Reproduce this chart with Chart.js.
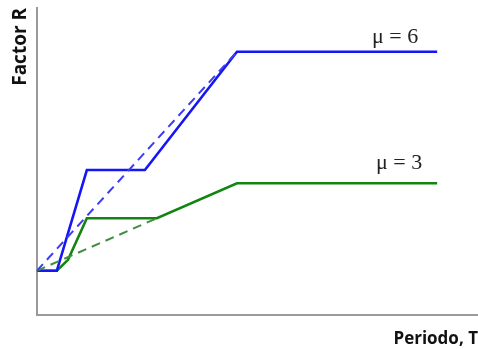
<!DOCTYPE html>
<html>
<head>
<meta charset="utf-8">
<script src="https://cdn.jsdelivr.net/npm/chart.js@4.4.1/dist/chart.umd.min.js"></script>
<style>
  html, body { margin: 0; padding: 0; background: #fff; }
  #wrap { width: 478px; height: 349px; }
</style>
</head>
<body>
<div id="wrap"><canvas id="rCanvas"></canvas></div>
<script>
// periodo T (arbitrary units) and factor R for each curve
const periodMu6 = [0, 0.5, 1.25, 2.7, 5, 10];
const factorMu6 = [2, 2, 6.6, 6.6, 12, 12];
const periodMu6Dash = [0, 5];
const factorMu6Dash = [2, 12];

const periodMu3 = [0, 0.5, 0.78, 1.25, 3, 5, 10];
const factorMu3 = [2, 2, 2.5, 4.4, 4.4, 6, 6];
const periodMu3Dash = [0, 3];
const factorMu3Dash = [2, 4.4];

const curveLabels = ['\u03bc = 6', '\u03bc = 3'];

function toPoints(xs, ys) {
    return xs.map((x, i) => ({ x: x, y: ys[i] }));
}

// draws the mu labels above the flat part of each curve
const muLabels = {
    id: 'muLabels',
    afterDatasetsDraw(chart) {
        const ctx = chart.ctx;
        const xs = chart.scales.x;
        const ys = chart.scales.y;
        ctx.save();
        ctx.fillStyle = '#222';
        ctx.font = '22px "Liberation Serif", "DejaVu Serif", serif';
        ctx.textAlign = 'center';
        ctx.textBaseline = 'middle';
        ctx.fillText(curveLabels[0], xs.getPixelForValue(8.95), ys.getPixelForValue(12) - 15);
        ctx.fillText(curveLabels[1], xs.getPixelForValue(9.05), ys.getPixelForValue(6) - 20);
        ctx.restore();
    }
};

const rChart = document.getElementById('rCanvas');
const graph = new Chart(rChart, {
    type: 'line',
    data: {
        datasets: [{
            label: curveLabels[0] + ' (ductilidad)',
            data: toPoints(periodMu6Dash, factorMu6Dash),
            borderColor: '#3c3cf5',
            borderWidth: 2,
            borderDash: [9, 6],
            pointRadius: 0
        }, {
            label: curveLabels[1] + ' (ductilidad)',
            data: toPoints(periodMu3Dash, factorMu3Dash),
            borderColor: '#3f8f3f',
            borderWidth: 2,
            borderDash: [9, 6],
            pointRadius: 0
        }, {
            label: curveLabels[0],
            data: toPoints(periodMu6, factorMu6),
            borderColor: '#1515f5',
            borderWidth: 2.6,
            pointRadius: 0
        }, {
            label: curveLabels[1],
            data: toPoints(periodMu3, factorMu3),
            borderColor: '#128412',
            borderWidth: 2.6,
            pointRadius: 0
        }]
    },
    options: {
        responsive: true,
        maintainAspectRatio: false,
        animation: false,
        layout: {
            padding: { left: 9, top: 8, right: 0, bottom: 0 }
        },
        plugins: {
            legend: { display: false },
            tooltip: { enabled: false }
        },
        scales: {
            x: {
                type: 'linear',
                min: 0,
                max: 11.02,
                grid: { display: false, drawTicks: false },
                border: { display: true, color: '#9a9a9a', width: 2 },
                ticks: { display: false },
                title: {
                    display: true,
                    text: 'Periodo, T',
                    align: 'end',
                    color: '#111',
                    font: { family: '"Open Sans", "DejaVu Sans", sans-serif', size: 17, weight: 'bold' },
                    padding: { top: 14, bottom: 0 }
                }
            },
            y: {
                type: 'linear',
                min: 0,
                max: 14,
                grid: { display: false, drawTicks: false },
                border: { display: true, color: '#9a9a9a', width: 2 },
                ticks: { display: false },
                title: {
                    display: true,
                    text: 'Factor R',
                    align: 'end',
                    color: '#111',
                    font: { family: '"Open Sans", "DejaVu Sans", sans-serif', size: 19, weight: 'bold' },
                    padding: { top: 0, bottom: 5 }
                }
            }
        }
    },
    plugins: [muLabels]
});
</script>
</body>
</html>
